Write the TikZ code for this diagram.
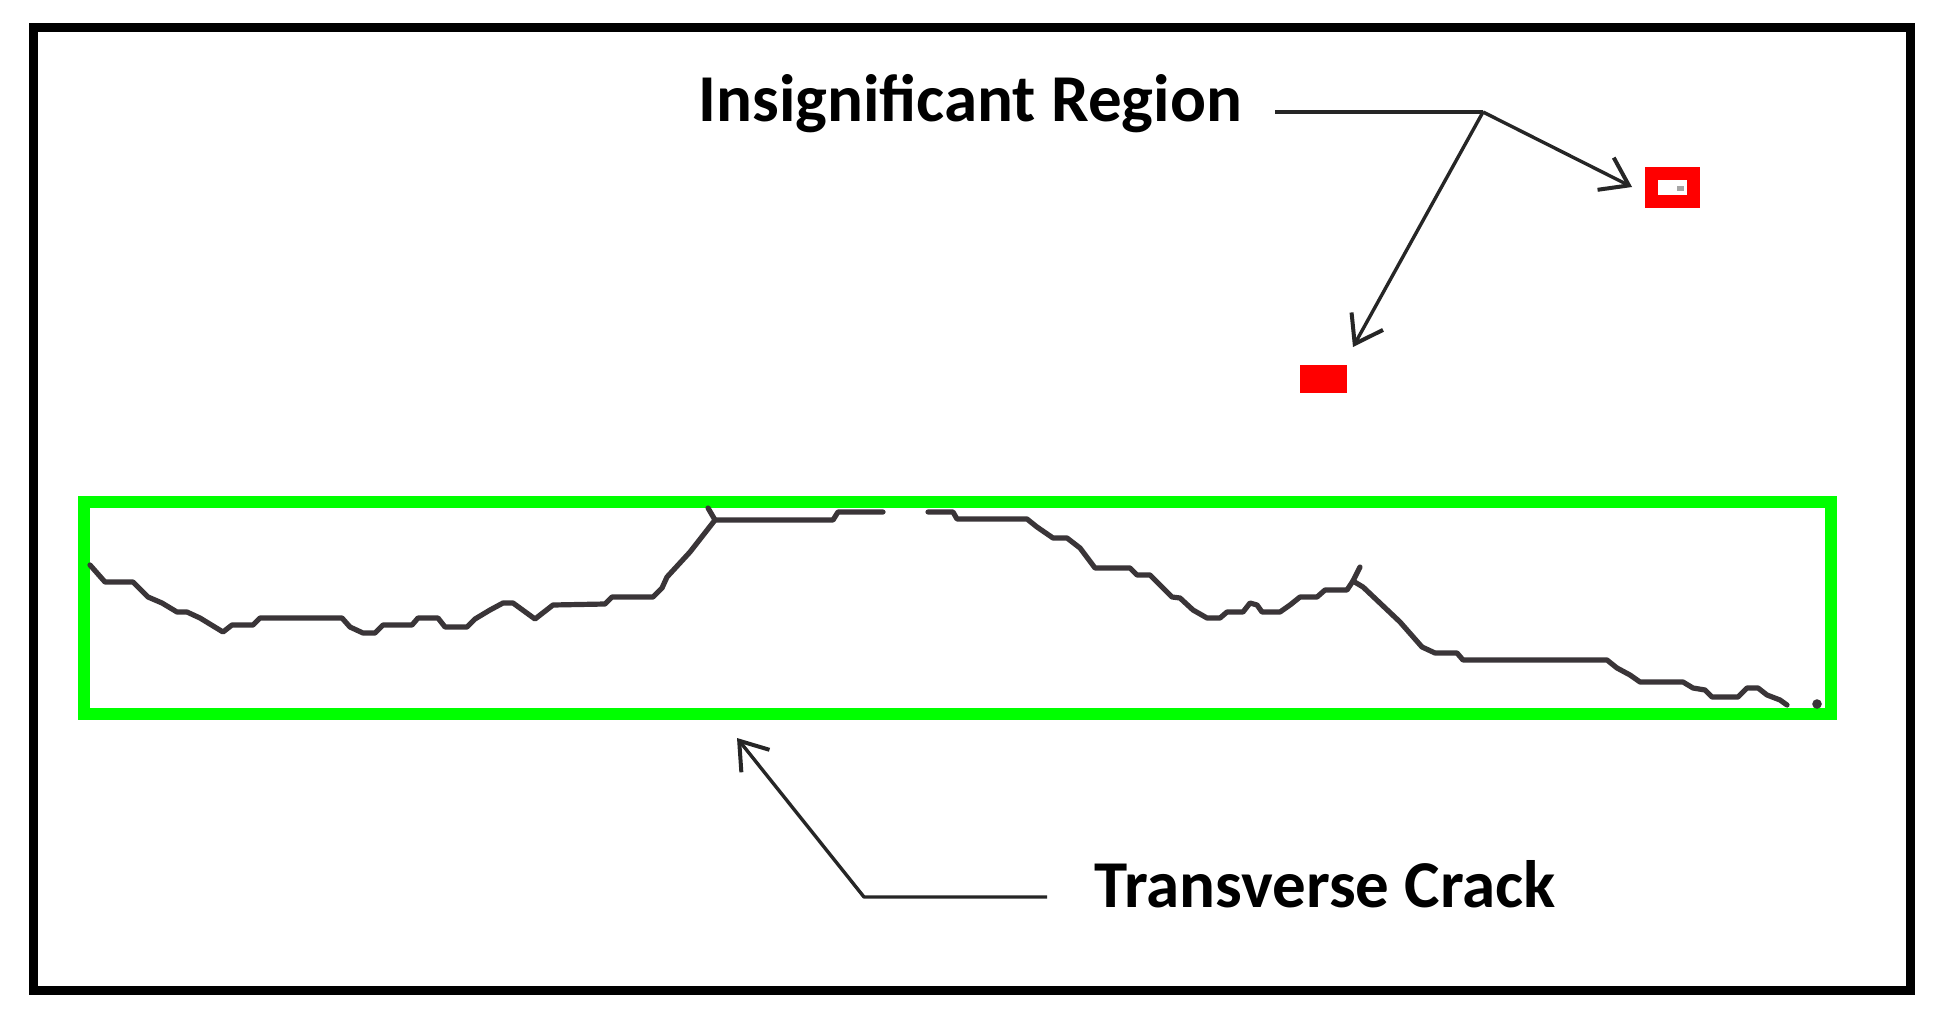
\documentclass[tikz,border=0pt]{standalone}
\usepackage{fontspec}
\setmainfont{Carlito}
\usetikzlibrary{arrows.meta}
\definecolor{crackgray}{HTML}{3A3538}
\definecolor{boxgreen}{HTML}{00FF00}
\definecolor{boxred}{HTML}{FF0000}
\tikzset{
  frameline/.style={draw=black, line width=4.5pt},
  greenbox/.style={draw=boxgreen, line width=6pt},
  crackline/.style={draw=crackgray, line width=2.6pt, line join=round, line cap=round},
  leader/.style={draw=black!85, line width=1.7pt, line join=round},
  pointer/.style={leader, -{Straight Barb[length=13pt, width=18pt, line width=2pt]}},
  labeltext/.style={font=\bfseries\fontsize{33.5pt}{40pt}\selectfont, inner sep=0pt, anchor=base west},
  redsolid/.style={fill=boxred, draw=none, inner sep=0pt, minimum width=23.5pt, minimum height=14pt},
}
\begin{document}
\begin{tikzpicture}[x=0.5pt, y=-0.5pt]
\useasboundingbox (0,0) rectangle (1946,1021);
\fill[white] (0,0) rectangle (1946,1021);
% outer frame
\draw[frameline] (33,28) rectangle (1910,990);
% green box
\draw[greenbox] (84,502) rectangle (1831,714);
% crack
\draw[crackline] (90,565) -- (105,582) -- (133,582) -- (148,597) -- (162,603) -- (177,612) -- (187,612) -- (200,618) -- (223,632) -- (232,625) -- (253,625) -- (260,618) -- (342,618) -- (350,627) -- (363,633) -- (375,633) -- (383,625) -- (412,625) -- (418,618) -- (438,618) -- (445,627) -- (467,627) -- (475,619) -- (490,610) -- (503,603) -- (513,603) -- (535,619) -- (553,605) -- (605,604) -- (612,597) -- (653,597) -- (662,588) -- (667,577) -- (690,552) -- (715,520) -- (833,520) -- (838,512) -- (883,512);
\draw[crackline] (708,508) -- (715,520);
\draw[crackline] (928,512) -- (953,512) -- (957,519) -- (1027,519) -- (1037,527) -- (1053,538) -- (1067,538) -- (1080,548) -- (1095,568) -- (1130,568) -- (1137,575) -- (1150,575) -- (1172,597) -- (1180,598) -- (1193,610) -- (1207,618) -- (1220,618) -- (1227,612) -- (1243,612) -- (1250,603) -- (1257,605) -- (1262,612) -- (1280,612) -- (1290,605) -- (1300,597) -- (1317,597) -- (1325,590) -- (1347,590) -- (1353,581) -- (1363,587) -- (1400,622) -- (1422,647) -- (1435,653) -- (1457,653) -- (1463,660) -- (1607,660) -- (1617,668) -- (1630,675) -- (1640,682) -- (1683,682) -- (1693,688) -- (1705,690) -- (1712,697) -- (1738,697) -- (1747,688) -- (1758,688) -- (1767,695) -- (1780,700) -- (1787,705);
\draw[crackline] (1353,581) -- (1360,567);
\fill[crackgray] (1817,704) circle (2.4pt);
% red regions
\node[draw=boxred, line width=6.5pt, fill=white, inner sep=0pt, minimum width=21pt, minimum height=14pt] (rhollow) at (1672.5,187.5) {};
\fill[black!35] (1677,186) rectangle (1684,191);
\node[redsolid] (rsolid) at (1323.5,379) {};
% labels
\node[labeltext] (insig) at (698,122) {Insignificant Region};
\node[labeltext] (trans) at (1094,907) {Transverse Crack};
% leader lines
\coordinate (insigstart) at (1275,112);
\coordinate (junction) at (1483,112);
\coordinate (tipA) at (1632,187);
\coordinate (tipB) at (1353,347);
\draw[leader] (insigstart) -- (junction);
\draw[pointer] (junction) -- (tipA);
\draw[pointer] (junction) -- (tipB);
\coordinate (transend) at (1047,897);
\coordinate (bend) at (864,897);
\coordinate (tipC) at (737,738);
\draw[pointer] (transend) -- (bend) -- (tipC);
\end{tikzpicture}
\end{document}
